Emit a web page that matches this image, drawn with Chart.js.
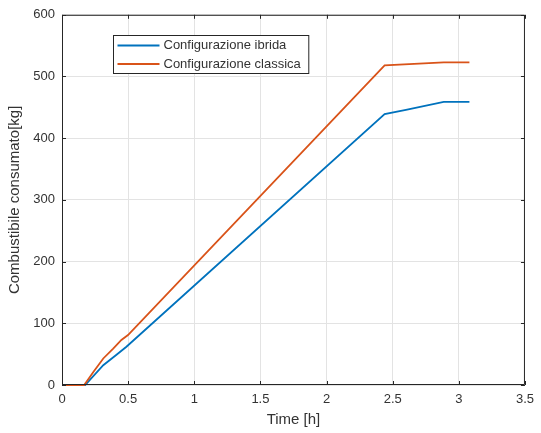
<!DOCTYPE html>
<html lang="it">
<head>
    <meta charset="UTF-8">
    <title>Combustibile consumato</title>
    <script src="https://cdn.jsdelivr.net/npm/chart.js"></script>
    <style>
        html, body { margin: 0; padding: 0; background: #fff; }
        #wrap { width: 541px; height: 433px; position: relative; }
    </style>
</head>
<body>
    <div id="wrap"><canvas id="fuelChart"></canvas></div>

    <script>
        // --- Data ---
        const seriesLabels = ['Configurazione ibrida', 'Configurazione classica'];

        const ibridaTime = [0, 0.175, 0.312, 0.412, 0.487, 2.439, 2.6, 2.886, 3.08];
        const ibridaFuel = [0, 0, 32, 49, 62, 439, 446, 459, 459];

        const classicaTime = [0, 0.168, 0.237, 0.312, 0.387, 0.449, 0.499, 2.439, 2.886, 3.08];
        const classicaFuel = [0, 0, 21, 43, 59, 73, 81, 518, 523, 523];

        const xTicks = [0, 0.5, 1, 1.5, 2, 2.5, 3, 3.5];
        const yTicks = [0, 100, 200, 300, 400, 500, 600];

        const blue = '#0072BD';
        const orange = '#D95319';
        const axisColor = '#262626';
        const textColor = '#333333';
        const fontFamily = '"Liberation Sans", Arial, Helvetica, sans-serif';

        const toPoints = (xs, ys) => xs.map((x, i) => ({ x: x, y: ys[i] }));

        // box around the plot, inward ticks on all four sides, and the legend
        const matlabAxes = {
            id: 'matlabAxes',
            afterDraw(chart) {
                const ctx = chart.ctx;
                const a = chart.chartArea;
                const xs = chart.scales.x, ys = chart.scales.y;
                const tl = 4;
                ctx.save();
                ctx.strokeStyle = axisColor;
                ctx.lineWidth = 1;
                ctx.beginPath();
                ctx.rect(a.left + 0.5, a.top + 0.5, a.right - a.left - 1, a.bottom - a.top - 1);
                ctx.stroke();

                ctx.beginPath();
                xTicks.forEach(v => {
                    const px = Math.round(xs.getPixelForValue(v)) + 0.5;
                    ctx.moveTo(px, a.bottom); ctx.lineTo(px, a.bottom - tl);
                    ctx.moveTo(px, a.top); ctx.lineTo(px, a.top + tl);
                });
                yTicks.forEach(v => {
                    const py = Math.round(ys.getPixelForValue(v)) + 0.5;
                    ctx.moveTo(a.left, py); ctx.lineTo(a.left + tl, py);
                    ctx.moveTo(a.right, py); ctx.lineTo(a.right - tl, py);
                });
                ctx.stroke();

                // legend
                const lx = 113.5, ly = 35.5, rowH = 18.5;
                ctx.font = '13px ' + fontFamily;
                let maxW = 0;
                chart.data.datasets.forEach(ds => { maxW = Math.max(maxW, ctx.measureText(ds.label).width); });
                const boxW = 50 + maxW + 8, boxH = 38;
                ctx.fillStyle = '#fff';
                ctx.fillRect(lx, ly, boxW, boxH);
                ctx.strokeStyle = axisColor;
                ctx.lineWidth = 1;
                ctx.strokeRect(lx, ly, boxW, boxH);
                chart.data.datasets.forEach((ds, i) => {
                    const cy = ly + 10 + i * rowH;
                    ctx.strokeStyle = ds.borderColor;
                    ctx.lineWidth = 2;
                    ctx.beginPath();
                    ctx.moveTo(lx + 4, cy); ctx.lineTo(lx + 46, cy);
                    ctx.stroke();
                    ctx.fillStyle = textColor;
                    ctx.textBaseline = 'middle';
                    ctx.textAlign = 'left';
                    ctx.fillText(ds.label, lx + 50, cy);
                });
                ctx.restore();
            }
        };

        new Chart(document.getElementById('fuelChart'), {
            type: 'line',
            data: {
                datasets: [{
                    label: seriesLabels[0],
                    data: toPoints(ibridaTime, ibridaFuel),
                    borderColor: blue,
                    borderWidth: 1.8,
                    pointRadius: 0,
                    tension: 0,
                    clip: 4,
                    order: 1
                }, {
                    label: seriesLabels[1],
                    data: toPoints(classicaTime, classicaFuel),
                    borderColor: orange,
                    borderWidth: 1.8,
                    pointRadius: 0,
                    tension: 0,
                    clip: 4,
                    order: 0
                }]
            },
            plugins: [matlabAxes],
            options: {
                responsive: true,
                maintainAspectRatio: false,
                animation: false,
                events: [],
                layout: { padding: { top: 14, right: 10, left: 6, bottom: 0 } },
                plugins: {
                    legend: { display: false },
                    tooltip: { enabled: false }
                },
                scales: {
                    x: {
                        type: 'linear',
                        min: 0,
                        max: 3.5,
                        afterBuildTicks: s => { s.ticks = xTicks.map(v => ({ value: v })); },
                        afterFit: s => { s.height = 48; },
                        grid: { color: '#e3e3e3', drawTicks: false },
                        border: { display: false },
                        ticks: {
                            padding: 7,
                            color: textColor,
                            font: { family: fontFamily, size: 13 },
                            callback: v => String(v)
                        },
                        title: {
                            display: true,
                            text: 'Time [h]',
                            color: textColor,
                            font: { family: fontFamily, size: 15 },
                            padding: { top: 0 }
                        }
                    },
                    y: {
                        min: 0,
                        max: 600,
                        afterBuildTicks: s => { s.ticks = yTicks.map(v => ({ value: v })); },
                        afterFit: s => { s.width = 56; },
                        grid: { color: '#e3e3e3', drawTicks: false },
                        border: { display: false },
                        ticks: {
                            padding: 7,
                            color: textColor,
                            font: { family: fontFamily, size: 13 }
                        },
                        title: {
                            display: true,
                            text: 'Combustibile consumato[kg]',
                            color: textColor,
                            font: { family: fontFamily, size: 15 },
                            padding: { top: 0, bottom: 2 }
                        }
                    }
                }
            }
        });
    </script>
</body>
</html>
